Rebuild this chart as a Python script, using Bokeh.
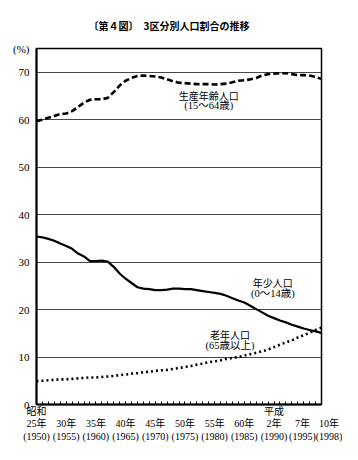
from bokeh.plotting import figure
from bokeh.models import Range1d, Label, FixedTicker
from bokeh.embed import file_html
from bokeh.resources import INLINE

# ---- data ----
years = list(range(1950, 1999))
working_age = [59.7, 60.0, 60.4, 60.8, 61.2, 61.3, 61.8, 62.7, 63.6, 64.2,
               64.3, 64.3, 64.6, 65.8, 67.2, 68.2, 68.8, 69.2, 69.3, 69.2,
               69.1, 68.9, 68.5, 68.1, 67.8, 67.7, 67.6, 67.5, 67.5, 67.5,
               67.4, 67.5, 67.6, 67.9, 68.2, 68.3, 68.5, 68.8, 69.3, 69.6,
               69.7, 69.8, 69.8, 69.6, 69.4, 69.4, 69.3, 69.0, 68.6]
young = [35.4, 35.2, 34.9, 34.5, 33.9, 33.4, 32.8, 31.8, 31.2, 30.2,
         30.2, 30.3, 30.1, 29.0, 27.6, 26.5, 25.6, 24.7, 24.4, 24.3,
         24.1, 24.1, 24.2, 24.4, 24.4, 24.3, 24.3, 24.1, 23.9, 23.7,
         23.5, 23.3, 22.9, 22.4, 21.9, 21.5, 20.8, 20.1, 19.4, 18.7,
         18.2, 17.7, 17.3, 16.8, 16.4, 16.0, 15.7, 15.4, 15.1]
old = [4.9, 5.0, 5.1, 5.2, 5.3, 5.3, 5.4, 5.5, 5.6, 5.7,
       5.7, 5.8, 5.9, 6.0, 6.2, 6.3, 6.5, 6.6, 6.8, 6.9,
       7.1, 7.2, 7.3, 7.5, 7.7, 7.9, 8.1, 8.4, 8.6, 8.9,
       9.1, 9.3, 9.6, 9.8, 10.0, 10.3, 10.6, 10.9, 11.2, 11.6,
       12.1, 12.6, 13.1, 13.5, 14.1, 14.6, 15.1, 15.7, 16.2]

tick_years = [1950, 1955, 1960, 1965, 1970, 1975, 1980, 1985, 1990, 1995, 1998]
tick_era = {1950: "昭和", 1990: "平成"}
tick_nen = ["25年", "30年", "35年", "40年", "45年", "50年", "55年", "60年", "2年", "7年", "10年"]
tick_ad = ["(1950)", "(1955)", "(1960)", "(1965)", "(1970)", "(1975)", "(1980)",
           "(1985)", "(1990)", "(1995)", "(1998)"]
y_ticks = [0, 10, 20, 30, 40, 50, 60, 70]
y_unit_label = "(%)"

title_text = "〔第４図〕　3区分別人口割合の推移"
series_labels = [
    ("生産年齢人口", "(15～64歳)", 1979.0, 65.2, 63.0),
    ("年少人口", "(0～14歳)", 1989.8, 25.7, 23.4),
    ("老年人口", "(65歳以上)", 1982.6, 14.8, 12.5),
]

SERIF = "'Liberation Serif', 'Noto Sans CJK JP', serif"
JP = "'Noto Sans CJK JP', sans-serif"

p = figure(width=342, height=444, output_backend="svg", toolbar_location=None,
           x_range=Range1d(1950, 1998), y_range=Range1d(0, 75),
           min_border_left=36, min_border_right=21, min_border_top=48,
           min_border_bottom=36)
p.background_fill_color = "white"
p.border_fill_color = "white"
p.outline_line_color = "black"
p.outline_line_width = 1.5

# title
p.title.text = title_text
p.title.align = "left"
p.title.offset = 52
p.title.standoff = 31
p.title.text_font = JP
p.title.text_font_size = "10px"
p.title.text_font_style = "bold"
p.title.text_color = "black"

# grid
p.xgrid.visible = False
p.ygrid.ticker = FixedTicker(ticks=y_ticks[1:])
p.ygrid.grid_line_color = "#333333"
p.ygrid.grid_line_width = 1
p.ygrid.grid_line_alpha = 0.9

# y axis (top tick carries the unit label)
p.yaxis.ticker = FixedTicker(ticks=y_ticks + [75])
p.yaxis.major_label_overrides = {75: y_unit_label}
p.yaxis.major_tick_line_color = None
p.yaxis.minor_tick_line_color = None
p.yaxis.axis_line_width = 2
p.yaxis.major_label_standoff = 1
p.yaxis.major_label_text_font = SERIF
p.yaxis.major_label_text_font_size = "11px"
p.yaxis.major_label_text_color = "black"

# x axis with three-row labels (1998 / 1995 nudged apart as in the original)
FS = "\u2007"
NB = "\u00a0"
overrides = {}
for i, yr in enumerate(tick_years):
    era = tick_era.get(yr, NB)
    lines = [era, tick_nen[i], tick_ad[i]]
    if yr == 1998:
        lines = [NB, FS * 3 + tick_nen[i], FS * 3 + tick_ad[i]]
    elif yr == 1995:
        lines = [NB, tick_nen[i] + NB, tick_ad[i] + NB]
    overrides[yr] = "\n".join(lines)
p.xaxis.ticker = FixedTicker(ticks=tick_years, minor_ticks=years)
p.xaxis.major_label_overrides = overrides
p.xaxis.major_tick_in = 3
p.xaxis.major_tick_out = 0
p.xaxis.minor_tick_in = 3
p.xaxis.minor_tick_out = 0
p.xaxis.major_tick_line_width = 1
p.xaxis.minor_tick_line_width = 1
p.xaxis.axis_line_width = 2
p.xaxis.major_label_standoff = 1
p.xaxis.major_label_text_font = SERIF
p.xaxis.major_label_text_font_size = "10px"
p.xaxis.major_label_text_color = "black"
p.xaxis.major_label_text_line_height = 1.15

# lines
p.line(years, working_age, line_color="black", line_width=2.6, line_dash="6 3")
p.line(years, young, line_color="black", line_width=2.2)
p.line(years, old, line_color="black", line_width=2.6, line_dash="2 3")

# series labels
for l1, l2, lx, ly1, ly2 in series_labels:
    p.add_layout(Label(x=lx, y=ly1, text=l1, text_align="center",
                       text_baseline="middle", text_font=JP,
                       text_font_size="10px", text_color="black"))
    p.add_layout(Label(x=lx, y=ly2, text=l2, text_align="center",
                       text_baseline="middle", text_font=SERIF,
                       text_font_size="10.5px", text_color="black"))

open("out.html", "w").write(file_html(p, INLINE))
